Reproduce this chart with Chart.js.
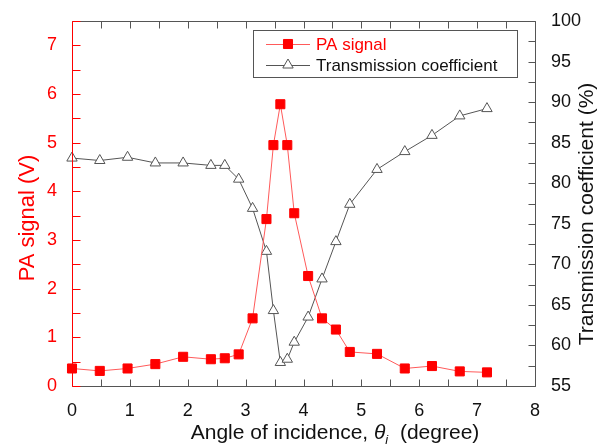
<!DOCTYPE html>
<html>
<head>
<meta charset="utf-8">
<script src="https://cdn.jsdelivr.net/npm/chart.js@4.4.1/dist/chart.umd.min.js"></script>
<style>
  html, body { margin: 0; padding: 0; background: #fff; }
</style>
</head>
<body>
<canvas id="myChart" width="602" height="444"></canvas>
<script>
// Angle of incidence (degree)
const angles = [0, 0.48, 0.96, 1.44, 1.92, 2.40, 2.64, 2.88, 3.12, 3.36, 3.48, 3.60,
  3.72, 3.84, 4.08, 4.32, 4.56, 4.80, 5.27, 5.75, 6.22, 6.70, 7.17];

// PA signal (V)
const paSignal = [0.36, 0.31, 0.36, 0.45, 0.60, 0.55, 0.57, 0.65, 1.39, 3.43, 4.95, 5.79,
  4.95, 3.55, 2.26, 1.39, 1.16, 0.70, 0.66, 0.36, 0.41, 0.30, 0.28];

// Transmission coefficient (%)
const transmission = [83.1, 82.8, 83.2, 82.5, 82.5, 82.2, 82.2, 80.5, 76.9, 71.6, 64.3, 57.9,
  58.3, 60.4, 63.5, 68.2, 72.8, 77.4, 81.7, 83.9, 85.9, 88.3, 89.2];

const FONT = 'Liberation Sans, Arial, sans-serif';
const RED = '#ff0000';
const GREY = '#555555';

function toPoints(ys) {
  return angles.map((x, i) => ({ x: x, y: ys[i] }));
}

// inward tick marks, frame and axis titles
const frameTicks = {
  id: 'frameTicks',
  afterDraw(chart) {
    const { ctx, chartArea: a, scales } = chart;
    const L = Math.round(a.left) + 0.5, R = Math.round(a.right) + 0.5;
    const T = Math.round(a.top) + 0.5, B = Math.round(a.bottom) + 0.5;
    ctx.save();
    ctx.lineWidth = 1;

    ctx.strokeStyle = GREY;
    ctx.beginPath();
    ctx.moveTo(L, B); ctx.lineTo(R, B); ctx.lineTo(R, T); ctx.lineTo(L, T);
    for (let v = 0; v <= 8; v += 0.5) {
      const px = Math.round(scales.x.getPixelForValue(v)) + 0.5;
      ctx.moveTo(px, B); ctx.lineTo(px, B - 7);
      ctx.moveTo(px, T); ctx.lineTo(px, T + 7);
    }
    for (let v = 55; v <= 100; v += 2.5) {
      const py = Math.round(scales.y1.getPixelForValue(v)) + 0.5;
      ctx.moveTo(R, py); ctx.lineTo(R - 7, py);
    }
    ctx.stroke();

    ctx.strokeStyle = RED;
    ctx.beginPath();
    ctx.moveTo(L, T); ctx.lineTo(L, B);
    for (let v = 0; v <= 7.5; v += 0.5) {
      const py = Math.round(scales.y.getPixelForValue(v)) + 0.5;
      ctx.moveTo(L, py); ctx.lineTo(L + 8, py);
    }
    ctx.stroke();

    // x axis title with italic theta and subscript i
    const parts = [
      { t: 'Angle of incidence, ', f: '21px ' + FONT, dy: 0 },
      { t: '\u03b8', f: 'italic 21px ' + FONT, dy: 0 },
      { t: 'i', f: 'italic 13px ' + FONT, dy: 5 },
      { t: '  (degree)', f: '21px ' + FONT, dy: 0 }
    ];
    let w = 0;
    parts.forEach(p => { ctx.font = p.f; p.w = ctx.measureText(p.t).width; w += p.w; });
    let x = 335 - w / 2;
    ctx.fillStyle = '#111';
    ctx.textBaseline = 'alphabetic';
    ctx.textAlign = 'left';
    parts.forEach(p => { ctx.font = p.f; ctx.fillText(p.t, x, 439 + p.dy); x += p.w; });

    // vertical titles, both reading bottom to top
    ctx.textAlign = 'center';
    ctx.textBaseline = 'middle';
    ctx.save();
    ctx.translate(28, 218);
    ctx.rotate(-Math.PI / 2);
    ctx.font = '22px ' + FONT;
    ctx.fillStyle = RED;
    ctx.fillText('PA signal (V)', 0, 0);
    ctx.restore();

    ctx.save();
    ctx.translate(587, 214);
    ctx.rotate(-Math.PI / 2);
    ctx.font = '21px ' + FONT;
    ctx.fillStyle = '#111';
    ctx.fillText('Transmission coefficient (%)', 0, 0);
    ctx.restore();

    ctx.restore();
  }
};

// legend box drawn inside the plot
const boxLegend = {
  id: 'boxLegend',
  afterDraw(chart) {
    const { ctx } = chart;
    ctx.save();
    ctx.strokeStyle = GREY;
    ctx.lineWidth = 1;
    ctx.strokeRect(253.5, 30.5, 264, 47);
    const rows = [
      { y: 44, ds: chart.data.datasets[0], color: RED },
      { y: 65, ds: chart.data.datasets[1], color: '#111' }
    ];
    rows.forEach(r => {
      ctx.strokeStyle = r.ds.borderColor;
      ctx.lineWidth = 1;
      ctx.beginPath();
      ctx.moveTo(266, r.y + 0.5); ctx.lineTo(310, r.y + 0.5);
      ctx.stroke();
      ctx.fillStyle = r.ds.pointBackgroundColor;
      ctx.strokeStyle = r.ds.pointBorderColor;
      ctx.lineWidth = r.ds.pointBorderWidth;
      Chart.helpers.drawPoint(ctx, {
        pointStyle: r.ds.pointStyle,
        radius: r.ds.pointRadius,
        borderWidth: r.ds.pointBorderWidth
      }, 288, r.y);
      ctx.fillStyle = r.color;
      ctx.font = '17px ' + FONT;
      ctx.textBaseline = 'middle';
      ctx.fillText(r.ds.label, 316, r.y + 1);
    });
    ctx.restore();
  }
};

const ctx = document.getElementById('myChart').getContext('2d');
new Chart(ctx, {
  type: 'line',
  data: {
    datasets: [
      {
        label: 'PA signal',
        data: toPoints(paSignal),
        yAxisID: 'y',
        borderColor: 'rgb(255, 90, 90)',
        borderWidth: 1,
        pointStyle: 'rect',
        pointRadius: 6.4,
        pointBackgroundColor: RED,
        pointBorderColor: RED,
        pointBorderWidth: 1,
        fill: false,
        clip: false
      },
      {
        label: 'Transmission coefficient',
        data: toPoints(transmission),
        yAxisID: 'y1',
        borderColor: GREY,
        borderWidth: 1,
        pointStyle: 'triangle',
        pointRadius: 6,
        pointBackgroundColor: '#ffffff',
        pointBorderColor: GREY,
        pointBorderWidth: 1,
        fill: false,
        clip: false
      }
    ]
  },
  options: {
    responsive: false,
    animation: false,
    devicePixelRatio: 1,
    layout: { padding: { top: 21, left: 0, right: 0, bottom: 0 } },
    plugins: {
      legend: { display: false },
      tooltip: { enabled: false }
    },
    scales: {
      x: {
        type: 'linear',
        position: 'bottom',
        min: 0,
        max: 8,
        ticks: { stepSize: 1, color: '#111', padding: 6, font: { family: FONT, size: 18 } },
        grid: { display: false },
        border: { display: false },
        afterFit(s) { s.height = 58; }
      },
      y: {
        type: 'linear',
        position: 'left',
        min: 0,
        max: 7.5,
        ticks: { stepSize: 1, includeBounds: false, color: RED, padding: 7, font: { family: FONT, size: 18 } },
        grid: { display: false },
        border: { display: false },
        afterFit(s) { s.width = 72; }
      },
      y1: {
        type: 'linear',
        position: 'right',
        min: 55,
        max: 100,
        ticks: { stepSize: 5, color: '#111', padding: 8, font: { family: FONT, size: 18 } },
        grid: { display: false },
        border: { display: false },
        afterFit(s) { s.width = 67; }
      }
    }
  },
  plugins: [frameTicks, boxLegend]
});
</script>
</body>
</html>
